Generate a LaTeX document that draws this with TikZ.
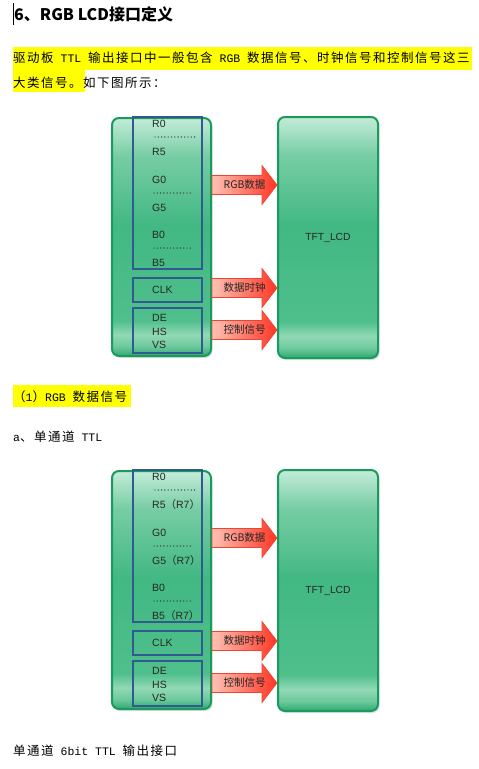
\documentclass[tikz,border=0pt]{standalone}
\usepackage{fontspec}
\setmainfont{Liberation Sans}
\newfontfamily\cjk{Noto Sans CJK SC}
\newfontfamily\cjkls{Noto Sans CJK SC}[LetterSpace=12]
\newfontfamily\mono{Liberation Mono}
\usetikzlibrary{calc,shadows}
\definecolor{hl}{HTML}{FFFF00}
\definecolor{pborder}{HTML}{179C5B}
\definecolor{pga}{HTML}{2FA870}
\definecolor{pgb}{HTML}{6CC99C}
\definecolor{pgc}{HTML}{92D9B6}
\definecolor{pgd}{HTML}{4FBF8C}
\definecolor{pge}{HTML}{42B883}
\definecolor{pgf}{HTML}{76CDA4}
\definecolor{pgg}{HTML}{C4ECD9}
\definecolor{bluebd}{HTML}{2F5B90}
\definecolor{arrL}{HTML}{FFC2B4}
\definecolor{arrR}{HTML}{FF3524}
\definecolor{arrB}{HTML}{EE4433}
\pgfdeclareverticalshading{gpanel}{100bp}{color(0bp)=(pga); color(25bp)=(pga); color(27bp)=(pgb); color(29.5bp)=(pgc); color(32.5bp)=(pgd); color(52.5bp)=(pge); color(67bp)=(pgf); color(75bp)=(pgg); color(100bp)=(pgg)}
\tikzset{
  panel/.style={shade, shading=gpanel, draw=pborder, line width=2pt, rounded corners=7pt,
    drop shadow={shadow xshift=1.5pt, shadow yshift=-2pt, opacity=.2, fill=black!60},
    font=\fontsize{10.3}{12}\selectfont, text=black!85},
  bluebox/.style={draw=bluebd, line width=1.6pt},
  sig/.style={anchor=west, inner sep=0pt, text height=7.4pt, text depth=0pt,
    font=\fontsize{10.5}{12}\selectfont, text=black!85},
  dots/.style={line width=1.4pt, line cap=round, dash pattern=on 0pt off 3.3pt, black!80},
  redarrow/.style={left color=arrL, right color=arrR, draw=arrB, line width=.7pt},
  arrlabel/.style={inner sep=0pt, font=\cjk\fontsize{10.5}{12}\selectfont, text=black!85},
  para/.style={anchor=base west, inner sep=0pt, font=\cjkls\fontsize{12.5}{15}\selectfont},
}
\newcommand\mn[1]{{\mono\fontsize{11.5}{15}\selectfont #1}}
\newcommand\blockarrow[4]{%
  \coordinate (#1#2s) at (#1L.east |- 0,{#3+\dy});
  \coordinate (#1#2e) at (#1R.west |- 0,{#3+\dy});
  \path[redarrow] ([yshift=9.5pt]#1#2s) -- ([xshift=-15pt,yshift=9.5pt]#1#2e)
    -- ([xshift=-15pt,yshift=19.5pt]#1#2e) -- (#1#2e)
    -- ([xshift=-15pt,yshift=-19.5pt]#1#2e) -- ([xshift=-15pt,yshift=-9.5pt]#1#2e)
    -- ([yshift=-9.5pt]#1#2s) -- cycle;
  \node[arrlabel] (#1#2t) at ($(#1#2s)!0.5!(#1#2e)$) {#4};
}
\newcommand\lcddiagram[3]{%
  \def\dy{#2}%
  \node[panel, minimum width=99pt, minimum height=238pt] (#1L) at (161.5,{237+\dy}) {};
  \node[panel, minimum width=100pt, minimum height=241pt] (#1R) at (328,{237.5+\dy}) {TFT\_LCD};
  \node[bluebox, minimum width=69pt, minimum height=152pt] (#1B) at (167.5,{193+\dy}) {};
  \node[bluebox, minimum width=69pt, minimum height=24pt] (#1C) at (167.5,{290+\dy}) {};
  \node[bluebox, minimum width=69pt, minimum height=45pt] (#1D) at (167.5,{330.5+\dy}) {};
  \node[sig] (#1r0) at (152,{124+\dy}) {R0};
  \node[sig] (#1r5) at (152,{152+\dy}) {R5#3};
  \node[sig] (#1g0) at (152,{180+\dy}) {G0};
  \node[sig] (#1g5) at (152,{208+\dy}) {G5#3};
  \node[sig] (#1b0) at (152,{235+\dy}) {B0};
  \node[sig] (#1b5) at (152,{263+\dy}) {B5#3};
  \node[sig] (#1clk) at (152,{290+\dy}) {CLK};
  \node[sig] (#1de) at (152,{318+\dy}) {DE};
  \node[sig] (#1hs) at (152,{331.5+\dy}) {HS};
  \node[sig] (#1vs) at (152,{345+\dy}) {VS};
  \draw[dots] (155,{137+\dy}) -- (197,{137+\dy});
  \draw[dots] (154,{193+\dy}) -- (193,{193+\dy});
  \draw[dots] (154,{248+\dy}) -- (193,{248+\dy});
  \blockarrow{#1}{rgb}{185}{RGB数据}
  \blockarrow{#1}{clk}{288}{数据时钟}
  \blockarrow{#1}{ctl}{330}{控制信号}
}
\begin{document}
\begin{tikzpicture}[x=1pt,y=-1pt]
\useasboundingbox (0,0) rectangle (479,769);
\fill[white] (0,0) rectangle (479,769);
% highlights
\fill[hl] (13,47) rectangle (472,69.5);
\fill[hl] (13,69) rectangle (85,92);
\fill[hl] (13,384.5) rectangle (131,406.5);
% cursor
\draw[line width=1.4pt] (13.7,3) -- (13.7,25);
\node[anchor=base west, inner sep=0pt, font=\cjk\bfseries\fontsize{16}{18}\selectfont] (title) at (14,20.5) {6、RGB LCD接口定义};
\node[para] (p1) at (13,62.5) {驱动板\mn{\ TTL\ }输出接口中一般包含\mn{\ RGB\ }数据信号、时钟信号和控制信号这三};
\node[para] (p2) at (13,87) {大类信号。如下图所示：};
\lcddiagram{a}{0}{}
\node[para] (h1) at (13,401.5) {（\mn{1}）\mn{RGB\ }数据信号};
\node[para] (h2) at (13,441) {\mn{a}、单通道\mn{\ TTL}};
\lcddiagram{b}{353}{{\cjk （}R7{\cjk ）}}
\node[para] (h3) at (13,755.5) {单通道\mn{\ 6bit\ TTL\ }输出接口};
\end{tikzpicture}
\end{document}
